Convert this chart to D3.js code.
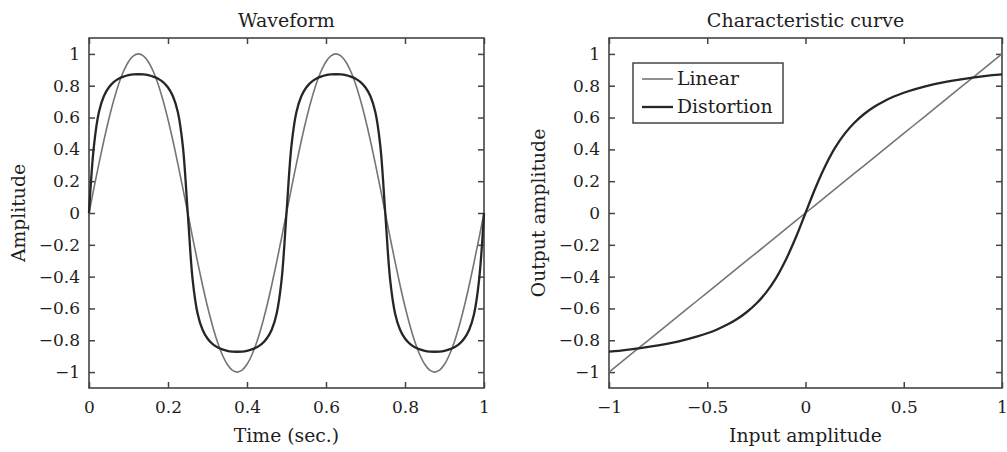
<!DOCTYPE html>
<html>
<head>
<meta charset="utf-8">
<script src="https://cdn.jsdelivr.net/npm/d3@7"></script>
<style>
html,body{margin:0;padding:0;background:#fff;}
svg{display:block;}
text{font-family:"DejaVu Serif",serif;fill:#1e1e1e;}
</style>
</head>
<body>
<svg id="chart" width="1007" height="452"></svg>
<script>
// ---------- data ----------
const timeSec = [0,0.0125,0.025,0.0375,0.05,0.0625,0.075,0.0875,0.1,0.1125,0.125,0.1375,0.15,0.1625,0.175,0.1875,0.2,0.2125,0.225,0.2375,0.25,0.2625,0.275,0.2875,0.3,0.3125,0.325,0.3375,0.35,0.3625,0.375,0.3875,0.4,0.4125,0.425,0.4375,0.45,0.4625,0.475,0.4875,0.5,0.5125,0.525,0.5375,0.55,0.5625,0.575,0.5875,0.6,0.6125,0.625,0.6375,0.65,0.6625,0.675,0.6875,0.7,0.7125,0.725,0.7375,0.75,0.7625,0.775,0.7875,0.8,0.8125,0.825,0.8375,0.85,0.8625,0.875,0.8875,0.9,0.9125,0.925,0.9375,0.95,0.9625,0.975,0.9875,1];

const sineWave = [0,0.156,0.309,0.454,0.588,0.707,0.809,0.891,0.951,0.988,1,0.988,0.951,0.891,0.809,0.707,0.588,0.454,0.309,0.156,
  0,-0.156,-0.309,-0.454,-0.588,-0.707,-0.809,-0.891,-0.951,-0.988,-1,-0.988,-0.951,-0.891,-0.809,-0.707,-0.588,-0.454,-0.309,-0.156,
  0,0.156,0.309,0.454,0.588,0.707,0.809,0.891,0.951,0.988,1,0.988,0.951,0.891,0.809,0.707,0.588,0.454,0.309,0.156,
  0,-0.156,-0.309,-0.454,-0.588,-0.707,-0.809,-0.891,-0.951,-0.988,-1,-0.988,-0.951,-0.891,-0.809,-0.707,-0.588,-0.454,-0.309,-0.156,
  0];

const distortedWave = [0,0.422,0.633,0.734,0.789,0.823,0.844,0.857,0.866,0.871,0.872,0.871,0.866,0.857,0.844,0.823,0.789,0.734,0.633,0.422,
  0,-0.422,-0.633,-0.734,-0.789,-0.823,-0.844,-0.857,-0.866,-0.871,-0.872,-0.871,-0.866,-0.857,-0.844,-0.823,-0.789,-0.734,-0.633,-0.422,
  0,0.422,0.633,0.734,0.789,0.823,0.844,0.857,0.866,0.871,0.872,0.871,0.866,0.857,0.844,0.823,0.789,0.734,0.633,0.422,
  0,-0.422,-0.633,-0.734,-0.789,-0.823,-0.844,-0.857,-0.866,-0.871,-0.872,-0.871,-0.866,-0.857,-0.844,-0.823,-0.789,-0.734,-0.633,-0.422,
  0];

const inputAmp = [-1,-0.95,-0.9,-0.85,-0.8,-0.75,-0.7,-0.65,-0.6,-0.55,-0.5,-0.45,-0.4,-0.35,-0.3,-0.25,-0.2,-0.15,-0.1,-0.05,
  0,0.05,0.1,0.15,0.2,0.25,0.3,0.35,0.4,0.45,0.5,0.55,0.6,0.65,0.7,0.75,0.8,0.85,0.9,0.95,1];
const linearOut = [-1,-0.95,-0.9,-0.85,-0.8,-0.75,-0.7,-0.65,-0.6,-0.55,-0.5,-0.45,-0.4,-0.35,-0.3,-0.25,-0.2,-0.15,-0.1,-0.05,
  0,0.05,0.1,0.15,0.2,0.25,0.3,0.35,0.4,0.45,0.5,0.55,0.6,0.65,0.7,0.75,0.8,0.85,0.9,0.95,1];
const distortionOut = [-0.872,-0.866,-0.859,-0.851,-0.842,-0.832,-0.821,-0.808,-0.793,-0.776,-0.756,-0.732,-0.703,-0.668,-0.624,-0.569,-0.499,-0.409,-0.294,-0.156,
  0,0.156,0.294,0.409,0.499,0.569,0.624,0.668,0.703,0.732,0.756,0.776,0.793,0.808,0.821,0.832,0.842,0.851,0.859,0.866,0.872];

const waveXTicks = [0,0.2,0.4,0.6,0.8,1];
const curveXTicks = [-1,-0.5,0,0.5,1];
const yTicks = [-1,-0.8,-0.6,-0.4,-0.2,0,0.2,0.4,0.6,0.8,1];
const titles = ["Waveform","Characteristic curve"];
const xLabels = ["Time (sec.)","Input amplitude"];
const yLabels = ["Amplitude","Output amplitude"];
const legendNames = ["Linear","Distortion"];

// ---------- drawing ----------
const svg = d3.select("#chart");
const frameColor = "#444";
const thinColor = "#757575";
const thickColor = "#262626";
const fmt = v => {
  const s = String(+v.toFixed(2));
  return s.replace("-", "\u2212");
};

function panel(opts){
  const {x0,x1,y0,y1,xDomain,xTicks,title,xLabel,yLabel,yLabelX} = opts;
  const x = d3.scaleLinear().domain(xDomain).range([x0,x1]);
  const y = d3.scaleLinear().domain([-1.1,1.1]).range([y1,y0]);
  const g = svg.append("g");
  const tl = 6;
  g.append("g").attr("transform",`translate(0,${y1})`)
    .call(d3.axisBottom(x).tickValues(xTicks).tickSize(-tl).tickPadding(13).tickFormat(fmt))
    .call(a=>{a.select(".domain").remove();a.selectAll("line").attr("stroke",frameColor).attr("stroke-width",1.5);
      a.selectAll("text").attr("font-family","DejaVu Serif").attr("font-size",17).attr("fill","#1e1e1e");});
  g.append("g").attr("transform",`translate(0,${y0})`)
    .call(d3.axisTop(x).tickValues(xTicks).tickSize(-tl).tickFormat(""))
    .call(a=>{a.select(".domain").remove();a.selectAll("line").attr("stroke",frameColor).attr("stroke-width",1.5);});
  g.append("g").attr("transform",`translate(${x0},0)`)
    .call(d3.axisLeft(y).tickValues(yTicks).tickSize(-tl).tickPadding(9).tickFormat(fmt))
    .call(a=>{a.select(".domain").remove();a.selectAll("line").attr("stroke",frameColor).attr("stroke-width",1.5);
      a.selectAll("text").attr("font-family","DejaVu Serif").attr("font-size",17).attr("fill","#1e1e1e");});
  g.append("g").attr("transform",`translate(${x1},0)`)
    .call(d3.axisRight(y).tickValues(yTicks).tickSize(-tl).tickFormat(""))
    .call(a=>{a.select(".domain").remove();a.selectAll("line").attr("stroke",frameColor).attr("stroke-width",1.5);});
  g.append("rect").attr("x",x0).attr("y",y0).attr("width",x1-x0).attr("height",y1-y0)
    .attr("fill","none").attr("stroke",frameColor).attr("stroke-width",1.6);
  g.append("text").attr("x",(x0+x1)/2).attr("y",y0-11).attr("text-anchor","middle")
    .attr("font-size",19).text(title);
  g.append("text").attr("x",(x0+x1)/2).attr("y",y1+54).attr("text-anchor","middle")
    .attr("font-size",18.8).text(xLabel);
  g.append("text").attr("transform",`translate(${yLabelX},${(y0+y1)/2}) rotate(-90)`).attr("text-anchor","middle")
    .attr("font-size",18.8).text(yLabel);
  return {x,y,g};
}

const left = panel({x0:89,x1:484,y0:38,y1:388,xDomain:[0,1],xTicks:waveXTicks,
  title:titles[0],xLabel:xLabels[0],yLabel:yLabels[0],yLabelX:25});
const right = panel({x0:609,x1:1002,y0:38,y1:388,xDomain:[-1,1],xTicks:curveXTicks,
  title:titles[1],xLabel:xLabels[1],yLabel:yLabels[1],yLabelX:545});

function drawLine(p, xs, ys, color, width, curve){
  const pts = xs.map((v,i)=>[v,ys[i]]);
  const line = d3.line().x(d=>p.x(d[0])).y(d=>p.y(d[1])).curve(curve);
  p.g.append("path").datum(pts).attr("d",line).attr("fill","none")
    .attr("stroke",color).attr("stroke-width",width).attr("stroke-linejoin","round");
}

drawLine(left, timeSec, sineWave, thinColor, 1.6, d3.curveCatmullRom.alpha(0.5));
drawLine(left, timeSec, distortedWave, thickColor, 2.3, d3.curveCatmullRom.alpha(0.5));
drawLine(right, inputAmp, linearOut, thinColor, 1.6, d3.curveLinear);
drawLine(right, inputAmp, distortionOut, thickColor, 2.3, d3.curveCatmullRom.alpha(0.5));

// legend
const lg = svg.append("g");
lg.append("rect").attr("x",633).attr("y",63).attr("width",150).attr("height",60)
  .attr("fill","#fff").attr("stroke",frameColor).attr("stroke-width",1.5);
const legendColors = [thinColor, thickColor];
const legendWidths = [1.6, 2.3];
legendNames.forEach((n,i)=>{
  const yy = 79 + i*28;
  lg.append("line").attr("x1",642).attr("x2",673).attr("y1",yy).attr("y2",yy)
    .attr("stroke",legendColors[i]).attr("stroke-width",legendWidths[i]);
  lg.append("text").attr("x",677).attr("y",yy+6).attr("font-size",18.8).text(n);
});
</script>
</body>
</html>
